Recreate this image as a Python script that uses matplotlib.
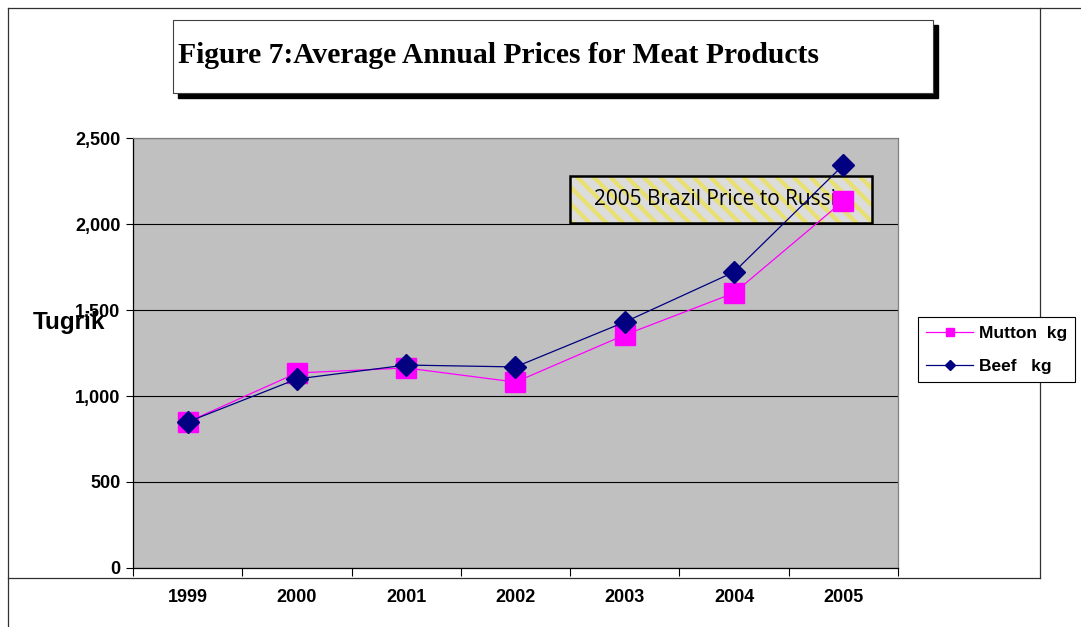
import numpy as np
import matplotlib
matplotlib.use('Agg')
import matplotlib.pyplot as plt
from matplotlib.lines import Line2D
from matplotlib.patches import Rectangle
from matplotlib.ticker import FuncFormatter

# data
years = ['1999', '2000', '2001', '2002', '2003', '2004', '2005']
mutton = [849, 1134, 1163, 1081, 1355, 1599, 2134]
beef = [849, 1099, 1180, 1169, 1430, 1721, 2343]
y_ticks = [0, 500, 1000, 1500, 2000, 2500]

plt.rcParams['font.family'] = ['Liberation Sans', 'DejaVu Sans']
plt.rcParams['hatch.linewidth'] = 3

fig = plt.figure(figsize=(10.81, 6.27), dpi=100)
ax = fig.add_axes([0.123, 0.0941, 0.7077, 0.6858])
ax.set_facecolor('#C0C0C0')

x = np.arange(len(years))
ax.plot(x, mutton, color='#FF00FF', lw=0.9, marker='s', ms=14, mec='#FF00FF', zorder=4)
ax.plot(x, beef, color='#000080', lw=0.9, marker='D', ms=11, mec='#000080', zorder=5)

ax.set_xlim(-0.5, len(years) - 0.5)
ax.set_ylim(0, 2500)
ax.set_yticks(y_ticks)
ax.yaxis.set_major_formatter(FuncFormatter(lambda v, p: f'{int(v):,}'))
ax.yaxis.grid(True, color='black', lw=0.8)
ax.set_axisbelow(True)

ax.set_xticks(x)
ax.set_xticklabels(years)
ax.set_xticks(np.arange(-0.5, len(years)), minor=True)
ax.tick_params(axis='x', which='major', length=0, pad=15)
ax.tick_params(axis='x', which='minor', length=6, width=0.8, direction='out')
ax.tick_params(axis='y', length=5, width=0.8, pad=4)
for lab in ax.get_xticklabels() + ax.get_yticklabels():
    lab.set_fontweight('bold')
    lab.set_fontsize(13)

for s in ['top', 'right']:
    ax.spines[s].set_color('#808080')
    ax.spines[s].set_linewidth(0.9)
for s in ['left', 'bottom']:
    ax.spines[s].set_color('black')
    ax.spines[s].set_linewidth(0.9)

# annotation box with yellow stripes
ax.add_patch(Rectangle((0.571, 0.802), 0.395, 0.110, transform=ax.transAxes,
                       facecolor='#DCDCDC', edgecolor='#E8E070', hatch='\\\\',
                       lw=0, zorder=2))
ax.add_patch(Rectangle((0.571, 0.802), 0.395, 0.110, transform=ax.transAxes,
                       facecolor='none', edgecolor='black', lw=1.8, zorder=3))
ax.text(0.571 + 0.395 / 2, 0.857, '2005 Brazil Price to Russia', transform=ax.transAxes,
        ha='center', va='center', fontsize=15, family=['Open Sans', 'DejaVu Sans'],
        zorder=3)

# title box with shadow
fig.patches.append(Rectangle((0.165, 0.843), 0.703, 0.117, transform=fig.transFigure,
                             facecolor='black', edgecolor='black', zorder=0))
fig.patches.append(Rectangle((0.160, 0.852), 0.703, 0.116, transform=fig.transFigure,
                             facecolor='white', edgecolor='#404040', lw=0.8, zorder=1))
fig.text(0.1647, 0.912, 'Figure 7:Average Annual Prices for Meat Products',
         family=['Liberation Serif', 'DejaVu Serif'], fontweight='bold', fontsize=21.3,
         ha='left', va='center', zorder=2)

fig.text(0.0305, 0.486, 'Tugrik', fontweight='bold', fontsize=17.5, ha='left', va='center')

# outer frame lines
frame = dict(transform=fig.transFigure, color='#303030', lw=0.9)
fig.lines.append(Line2D([0.0074, 0.0074], [0.0, 0.987], **frame))
fig.lines.append(Line2D([0.0074, 1.0], [0.987, 0.987], **frame))
fig.lines.append(Line2D([0.962, 0.962], [0.078, 0.987], **frame))
fig.lines.append(Line2D([0.0074, 0.962], [0.078, 0.078], **frame))

handles = [Line2D([], [], color='#FF00FF', lw=0.9, marker='s', ms=6),
           Line2D([], [], color='#000080', lw=0.9, marker='D', ms=5.5)]
leg = fig.legend(handles, ['Mutton  kg', 'Beef   kg'], loc='upper left',
                 bbox_to_anchor=(0.849, 0.494), borderaxespad=0, fancybox=False,
                 framealpha=1, edgecolor='black', prop={'weight': 'bold', 'size': 12.5},
                 handlelength=2.7, handletextpad=0.3, labelspacing=1.0, borderpad=0.5)
leg.get_frame().set_linewidth(0.8)

fig.savefig('out.png', dpi=100)
